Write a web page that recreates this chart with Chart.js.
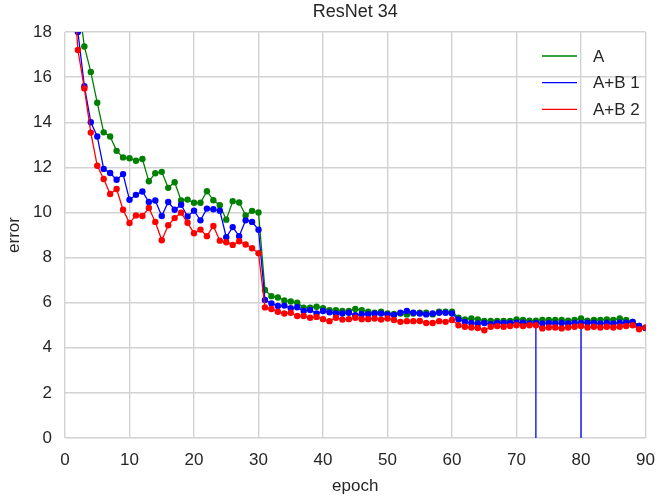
<!DOCTYPE html>
<html>
<head>
<meta charset="utf-8">
<script src="https://cdn.jsdelivr.net/npm/chart.js@4.4.1/dist/chart.umd.min.js"></script>
<style>
  html, body { margin: 0; padding: 0; background: #ffffff; }
  #wrap { width: 667px; height: 497px; }
</style>
</head>
<body>
<div id="wrap"><canvas id="c" width="667" height="497"></canvas></div>
<script>
const chartTitle = "ResNet 34";
const xAxisLabel = "epoch";
const yAxisLabel = "error";
const xTicks = [0, 10, 20, 30, 40, 50, 60, 70, 80, 90];
const yTicks = [0, 2, 4, 6, 8, 10, 12, 14, 16, 18];
const seriesNames = ["A", "A+B 1", "A+B 2"];
const seriesColors = ["#008000", "#0000ff", "#ff0000"];
const epochs = [];
for (let e = 1; e <= 90; e++) epochs.push(e);

const errA = [
  24.0, 19.5, 17.36, 16.23, 14.86, 13.55, 13.37, 12.73, 12.44, 12.4,
  12.29, 12.37, 11.38, 11.74, 11.8, 11.09, 11.34, 10.53, 10.57, 10.43,
  10.43, 10.94, 10.54, 10.32, 9.68, 10.5, 10.44, 9.87, 10.07, 10.0,
  6.56, 6.29, 6.23, 6.1, 6.05, 6.0, 5.78, 5.78, 5.82, 5.75,
  5.67, 5.67, 5.63, 5.63, 5.72, 5.67, 5.6, 5.55, 5.6, 5.52,
  5.5, 5.52, 5.48, 5.52, 5.55, 5.55, 5.48, 5.6, 5.6, 5.6,
  5.33, 5.26, 5.3, 5.26, 5.19, 5.19, 5.19, 5.19, 5.19, 5.26,
  5.23, 5.2, 5.2, 5.23, 5.23, 5.23, 5.23, 5.2, 5.23, 5.3,
  5.2, 5.23, 5.23, 5.26, 5.23, 5.3, 5.23, 5.15, 4.97, 4.88
];
const errAB1 = [
  22.0, 18.0, 15.6, 14.0, 13.37, 11.93, 11.75, 11.45, 11.7, 10.56,
  10.78, 10.93, 10.46, 10.53, 9.84, 10.46, 10.12, 10.34, 9.82, 10.08,
  9.65, 10.17, 10.14, 10.08, 8.9, 9.35, 8.95, 9.65, 9.58, 9.23,
  6.12, 5.97, 5.85, 5.87, 5.75, 5.8, 5.63, 5.67, 5.52, 5.63,
  5.57, 5.52, 5.52, 5.55, 5.44, 5.49, 5.49, 5.52, 5.52, 5.48,
  5.45, 5.55, 5.63, 5.55, 5.52, 5.48, 5.52, 5.55, 5.55, 5.52,
  5.26, 5.15, 5.1, 5.08, 5.1, 5.04, 5.1, 5.1, 5.1, 5.11,
  5.11, 5.08, 5.1, 5.08, 5.1, 5.08, 5.1, 5.08, 5.1, 5.1,
  5.11, 5.1, 5.08, 5.1, 5.08, 5.11, 5.11, 5.15, 4.97, 4.88
];
// epochs of A+B 1 where the log has an extra entry that falls below the axis
const dropEpochs = [73, 80];
const dropValue = -1;
const errAB2 = [
  21.2, 17.2, 15.5, 13.54, 12.07, 11.48, 10.82, 11.04, 10.12, 9.53,
  9.87, 9.84, 10.2, 9.58, 8.77, 9.43, 9.75, 9.99, 9.54, 9.08,
  9.24, 8.95, 9.4, 8.75, 8.68, 8.56, 8.72, 8.58, 8.41, 8.19,
  5.79, 5.72, 5.6, 5.52, 5.55, 5.41, 5.41, 5.33, 5.37, 5.27,
  5.18, 5.33, 5.25, 5.27, 5.33, 5.27, 5.27, 5.3, 5.25, 5.3,
  5.23, 5.15, 5.18, 5.18, 5.19, 5.1, 5.1, 5.18, 5.15, 5.23,
  5.0, 4.93, 4.9, 4.88, 4.78, 4.93, 4.96, 4.93, 4.96, 5.0,
  4.96, 5.0, 5.0, 4.86, 4.9, 4.9, 4.86, 4.9, 4.93, 4.96,
  4.9, 4.93, 4.9, 4.93, 4.9, 4.93, 4.96, 5.0, 4.82, 4.9
];
const seriesValues = [errA, errAB1, errAB2];

const FONT = '"Liberation Sans", Arial, sans-serif';
const TEXT = '#262626';
const GRID = '#d2d2d2';

function buildPoints(vals, drops) {
  const pts = [];
  epochs.forEach((e, k) => {
    pts.push({ x: e, y: vals[k] });
    if (drops && drops.indexOf(e) >= 0) {
      pts.push({ x: e, y: dropValue, drop: true });
      pts.push({ x: e, y: vals[k], drop: true });
    }
  });
  return pts;
}

const datasets = seriesValues.map((vals, i) => {
  const pts = buildPoints(vals, i === 1 ? dropEpochs : null);
  return {
    label: seriesNames[i],
    data: pts,
    borderColor: seriesColors[i],
    backgroundColor: seriesColors[i],
    borderWidth: 1.3,
    pointRadius: pts.map(p => p.drop ? 0 : 3.2),
    pointBorderWidth: 0,
    pointHoverRadius: 3.2,
    tension: 0,
    order: 3 - i
  };
});

const textPlugin = {
  id: 'textPlugin',
  afterDraw(chart) {
    const ctx = chart.ctx;
    const a = chart.chartArea;
    ctx.save();
    ctx.fillStyle = TEXT;
    ctx.textBaseline = 'middle';
    ctx.font = '18px ' + FONT;
    ctx.textAlign = 'center';
    ctx.fillText(chartTitle, (a.left + a.right) / 2, 12);
    ctx.font = '17px ' + FONT;
    ctx.fillText(xAxisLabel, (a.left + a.right) / 2, 486);
    ctx.save();
    ctx.translate(14, (a.top + a.bottom) / 2);
    ctx.rotate(-Math.PI / 2);
    ctx.fillText(yAxisLabel, 0, 0);
    ctx.restore();
    const rows = [56, 82.7, 109.3];
    ctx.font = '17px ' + FONT;
    ctx.textAlign = 'left';
    seriesNames.forEach((name, i) => {
      ctx.strokeStyle = seriesColors[i];
      ctx.lineWidth = 1.3;
      ctx.beginPath();
      ctx.moveTo(542, rows[i]);
      ctx.lineTo(577, rows[i]);
      ctx.stroke();
      ctx.fillStyle = TEXT;
      ctx.fillText(name, 593, rows[i] + 1);
    });
    ctx.restore();
  }
};

new Chart(document.getElementById('c'), {
  type: 'line',
  data: { datasets },
  options: {
    responsive: false,
    animation: false,
    devicePixelRatio: 1,
    layout: { padding: { left: 0, right: 11, top: 32, bottom: 0 } },
    plugins: {
      legend: { display: false },
      title: { display: false },
      tooltip: { enabled: false }
    },
    scales: {
      x: {
        type: 'linear',
        min: 0,
        max: 90,
        afterFit(scale) { scale.height = 59; },
        afterBuildTicks(scale) { scale.ticks = xTicks.map(v => ({ value: v })); },
        ticks: { color: TEXT, font: { family: FONT, size: 17 }, padding: 12, maxRotation: 0 },
        grid: { color: GRID, lineWidth: 1.4, drawTicks: false },
        border: { display: false }
      },
      y: {
        type: 'linear',
        min: 0,
        max: 18,
        afterFit(scale) { scale.width = 65; },
        afterBuildTicks(scale) { scale.ticks = yTicks.map(v => ({ value: v })); },
        ticks: { color: TEXT, font: { family: FONT, size: 17 }, padding: 13 },
        grid: { color: GRID, lineWidth: 1.4, drawTicks: false },
        border: { display: false }
      }
    }
  },
  plugins: [textPlugin]
});
</script>
</body>
</html>
